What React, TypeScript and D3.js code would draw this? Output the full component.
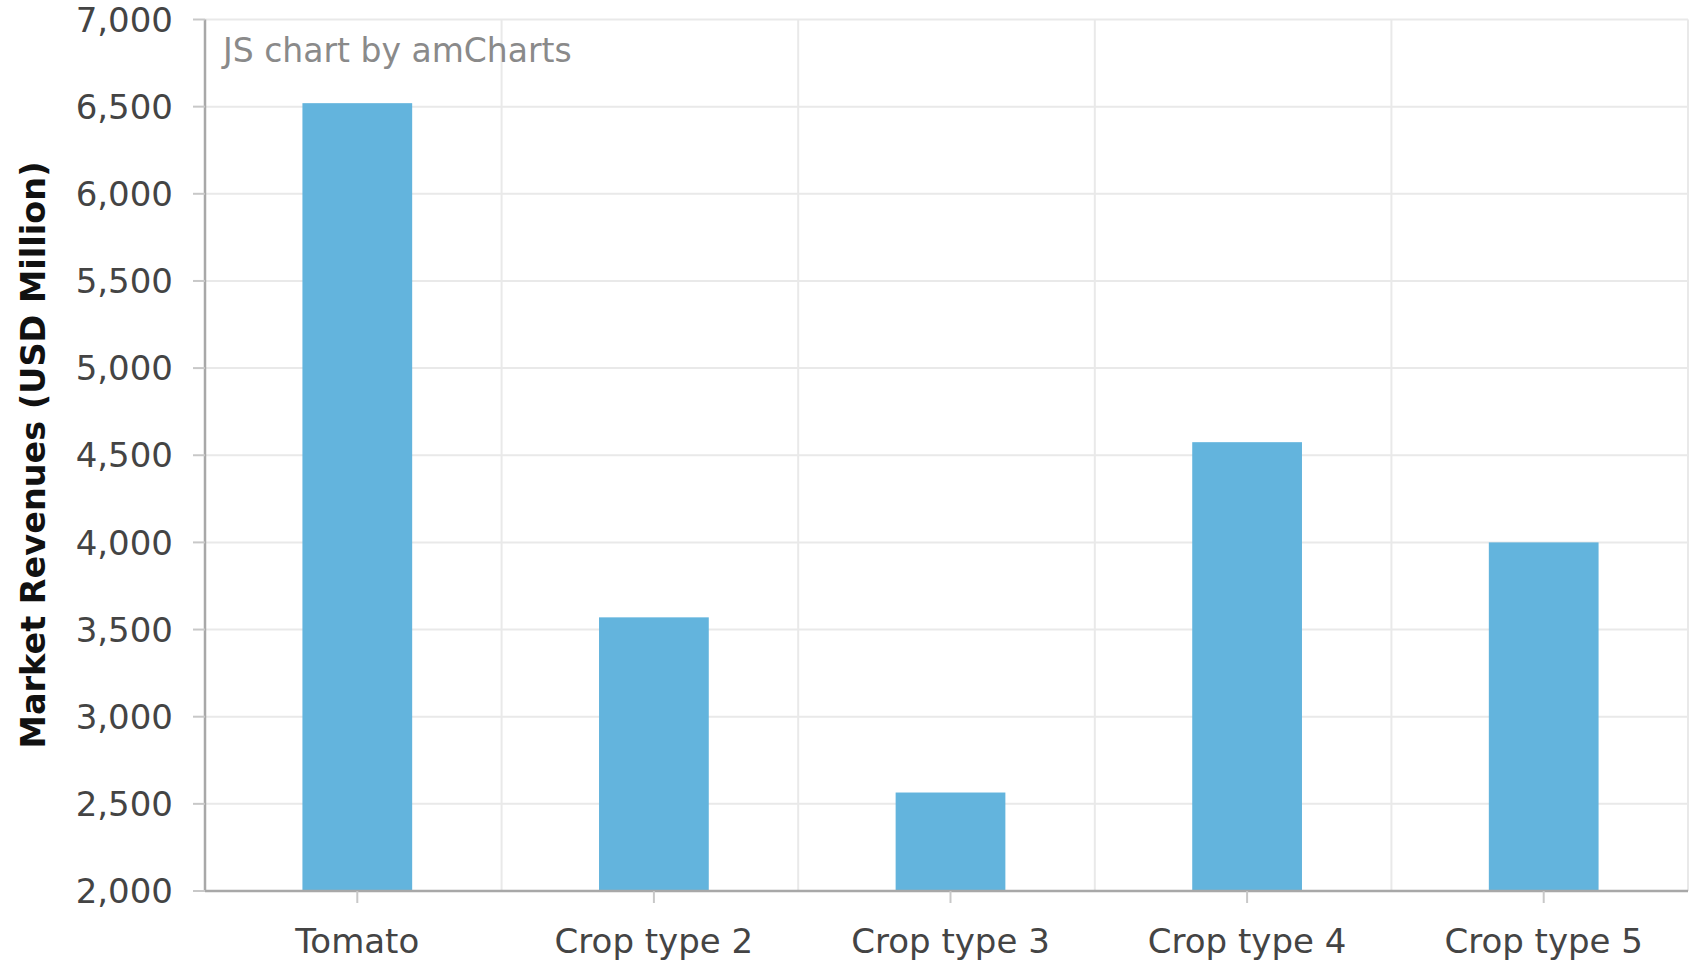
import { useRef, useEffect } from "react";
import * as d3 from "d3";

const categories = ["Tomato", "Crop type 2", "Crop type 3", "Crop type 4", "Crop type 5"];
const revenues = [6520, 3570, 2565, 4575, 4000];
const yTicks = [2000, 2500, 3000, 3500, 4000, 4500, 5000, 5500, 6000, 6500, 7000];

const FONT = "'DejaVu Sans', Verdana, sans-serif";

export default function App() {
  const ref = useRef<SVGSVGElement>(null);
  useEffect(() => {
    if (!ref.current) return;
    const svg = d3.select(ref.current);
    svg.selectAll("*").remove();
    const W = 1694, H = 964;
    const left = 205, right = 1688, top = 19.5, bottom = 891;
    svg.attr("width", W).attr("height", H);

    const x = d3.scaleBand().domain(categories).range([left, right]).padding(0);
    const y = d3.scaleLinear().domain([2000, 7000]).range([bottom, top]);

    // grid
    svg.append("g").selectAll("line").data(yTicks).join("line")
      .attr("x1", left).attr("x2", right).attr("y1", d => y(d)).attr("y2", d => y(d))
      .attr("stroke", "#e9e9e9").attr("stroke-width", 2);
    const vlines = categories.slice(1).map(c => x(c)!).concat([right]);
    svg.append("g").selectAll("line").data(vlines).join("line")
      .attr("x1", d => d).attr("x2", d => d).attr("y1", top).attr("y2", bottom)
      .attr("stroke", "#e9e9e9").attr("stroke-width", 2);

    // bars
    const bw = x.bandwidth() * 0.37;
    svg.append("g").selectAll("rect").data(categories).join("rect")
      .attr("x", (d) => x(d)! + x.bandwidth() / 2 - bw / 2 + 4)
      .attr("y", (_, i) => y(revenues[i]))
      .attr("width", bw)
      .attr("height", (_, i) => bottom - y(revenues[i]))
      .attr("fill", "#63b4dd");

    // axes lines
    svg.append("line").attr("x1", left).attr("x2", left).attr("y1", top).attr("y2", bottom)
      .attr("stroke", "#a8a8a8").attr("stroke-width", 2.5);
    svg.append("line").attr("x1", left).attr("x2", right).attr("y1", bottom).attr("y2", bottom)
      .attr("stroke", "#a8a8a8").attr("stroke-width", 2.5);

    // y ticks
    const yt = svg.append("g");
    yt.selectAll("line").data(yTicks).join("line")
      .attr("x1", left - 12).attr("x2", left).attr("y1", d => y(d)).attr("y2", d => y(d))
      .attr("stroke", "#c8c8c8").attr("stroke-width", 2);
    yt.selectAll("text").data(yTicks).join("text")
      .attr("x", left - 32).attr("y", d => y(d)).attr("dy", "0.36em")
      .attr("text-anchor", "end").attr("fill", "#444").attr("font-size", 34)
      .attr("font-family", FONT).text(d => d3.format(",")(d));

    // x ticks
    const xt = svg.append("g");
    xt.selectAll("line").data(categories).join("line")
      .attr("x1", d => x(d)! + x.bandwidth() / 2 + 4).attr("x2", d => x(d)! + x.bandwidth() / 2 + 4)
      .attr("y1", bottom).attr("y2", bottom + 12)
      .attr("stroke", "#c8c8c8").attr("stroke-width", 2);
    xt.selectAll("text").data(categories).join("text")
      .attr("x", d => x(d)! + x.bandwidth() / 2 + 4).attr("y", 953)
      .attr("text-anchor", "middle").attr("fill", "#444").attr("font-size", 34)
      .attr("font-family", FONT).text(d => d);

    // axis title
    svg.append("text")
      .attr("transform", `translate(45,455) rotate(-90)`)
      .attr("text-anchor", "middle").attr("fill", "#111").attr("font-size", 33.5)
      .attr("font-weight", "bold").attr("font-family", FONT)
      .text("Market Revenues (USD Million)");

    // credit
    svg.append("text").attr("x", 223).attr("y", 62)
      .attr("fill", "#8a8a8a").attr("font-size", 33).attr("font-family", FONT)
      .text("JS chart by amCharts");
  }, []);

  return (
    <div style={{ position: "absolute", top: 0, left: 0, background: "#fff" }}>
      <svg ref={ref} style={{ display: "block" }} />
    </div>
  );
}
